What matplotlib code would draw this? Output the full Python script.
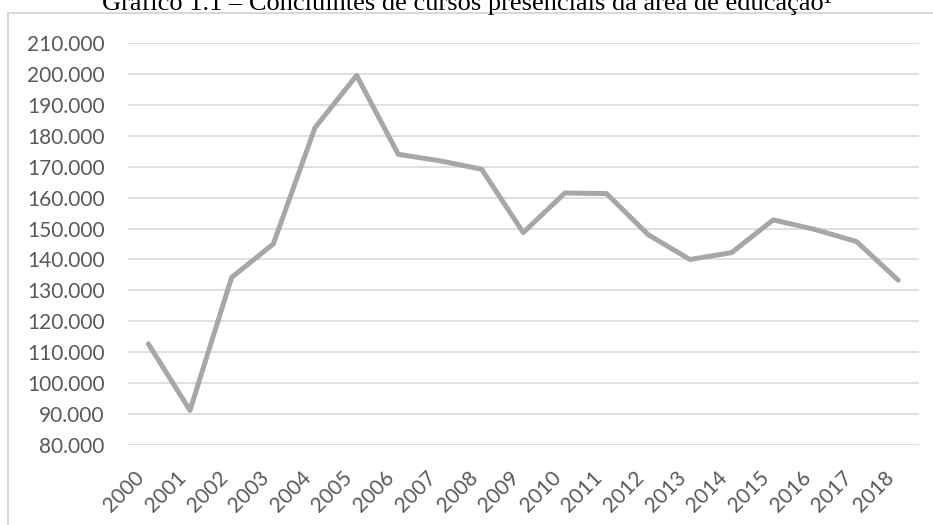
import numpy as np
import matplotlib
matplotlib.use('Agg')
import matplotlib.pyplot as plt
import matplotlib.transforms as mtransforms
from matplotlib.patches import Rectangle
from matplotlib.ticker import FuncFormatter

years = [str(y) for y in range(2000, 2019)]
concluintes = [112700, 91200, 134200, 145000, 182600, 199500, 174000, 171900, 169200,
               148700, 161500, 161300, 148000, 140000, 142200, 152800, 149700, 145800, 133300]
title = 'Gráfico 1.1 – Concluintes de cursos presenciais da área de educação¹'

fig = plt.figure(figsize=(9.33, 5.25), dpi=100)

# chart frame, top and left edge visible
fig.patches.append(Rectangle((8 / 933, -0.1), 1.2, 1 - 13 / 525 + 0.1, transform=fig.transFigure,
                             facecolor='none', edgecolor='#d9d9d9', linewidth=1.5))
fig.text(0.5, 1 - 10 / 525, title, ha='center', va='baseline', fontsize=19,
         family='Liberation Serif', color='black')

ax = fig.add_axes([127.5 / 933, 1 - 445 / 525, (919 - 127.5) / 933, (445 - 43) / 525])
x = np.arange(len(years))
ax.plot(x, concluintes, color='#a9a6a6', linewidth=3.6, solid_capstyle='round', solid_joinstyle='round')

ax.set_xlim(-0.5, len(years) - 0.5)
ax.set_ylim(80000, 210000)
ax.set_yticks(np.arange(80000, 210001, 10000))
ax.yaxis.set_major_formatter(FuncFormatter(lambda v, p: f'{int(v):,}'.replace(',', '.')))
ax.set_xticks(x)
ax.set_xticklabels(years, rotation=45, ha='right')
offset = mtransforms.ScaledTranslation(15 / 100, 0, fig.dpi_scale_trans)
for lab in ax.get_xticklabels():
    lab.set_transform(lab.get_transform() + offset)

ax.grid(axis='y', color='#d9d9d9', linewidth=1.2)
ax.set_axisbelow(True)
for s in ax.spines.values():
    s.set_visible(False)
ax.tick_params(axis='both', length=0, labelsize=15, labelcolor='#595959')
ax.tick_params(axis='y', pad=16.5)
ax.tick_params(axis='x', pad=16)
for lab in ax.get_xticklabels() + ax.get_yticklabels():
    lab.set_family('Lato')

fig.savefig('out.png', dpi=100)
